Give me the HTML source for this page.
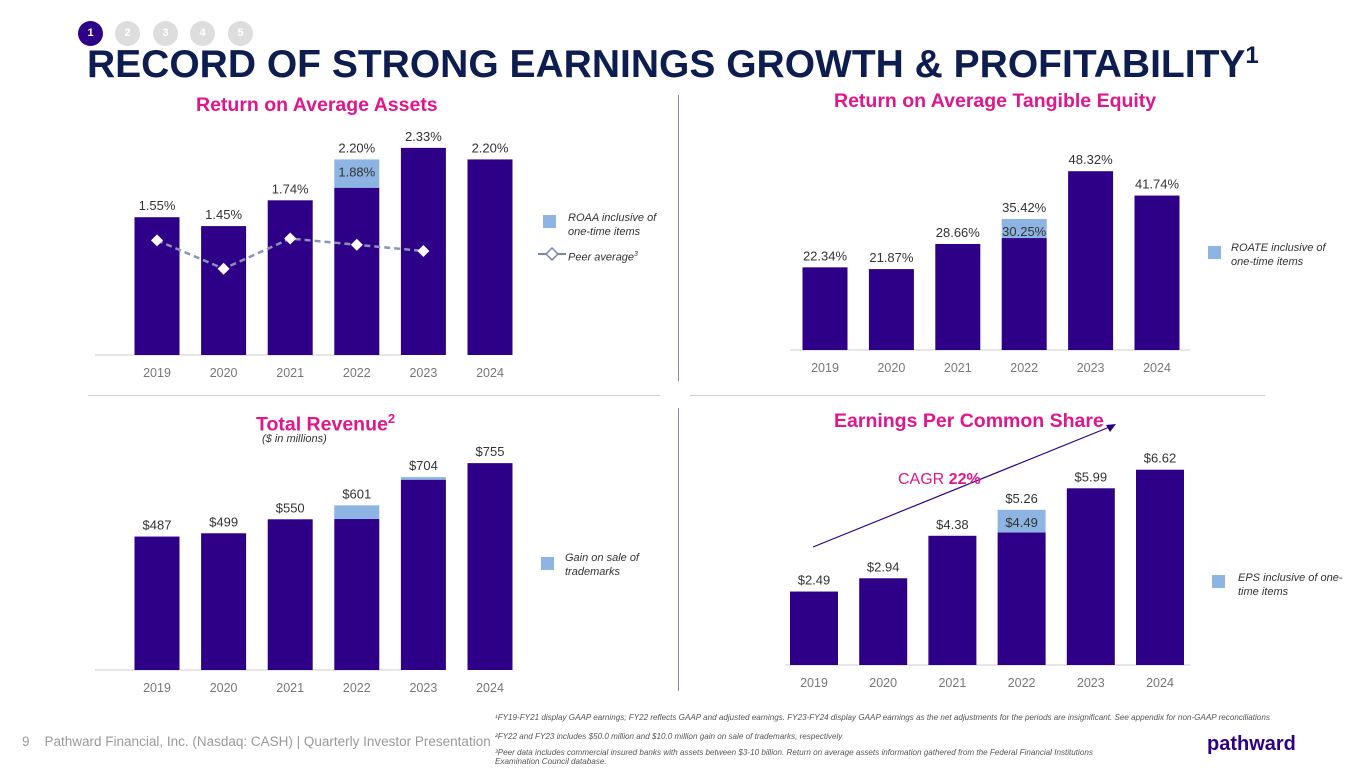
<!DOCTYPE html>
<html><head><meta charset="utf-8">
<style>
body{margin:0;width:1365px;height:768px;background:#fff;font-family:"Liberation Sans",sans-serif;overflow:hidden;position:relative}
.abs{position:absolute}
.dot{position:absolute;top:21px;width:25px;height:25px;border-radius:50%;background:#ddd;color:#fff;font-size:11px;font-weight:bold;text-align:center;line-height:25px}
.ct{position:absolute;color:#e0168c;font-weight:bold;font-size:19.5px;white-space:nowrap}
.leg{position:absolute;font-size:11px;font-style:italic;color:#333;line-height:14px}
.sw{position:absolute;width:13px;height:13px;background:#8db4e2}
.fn{position:absolute;font-size:8.1px;font-style:italic;color:#555;white-space:nowrap}
</style></head><body>
<div class="dot" style="left:78px;background:#2e0087">1</div>
<div class="dot" style="left:115px">2</div>
<div class="dot" style="left:153px">3</div>
<div class="dot" style="left:190px">4</div>
<div class="dot" style="left:228px">5</div>
<div class="abs" style="left:87px;top:42px;font-size:39px;font-weight:bold;color:#0d1d4f;white-space:nowrap">RECORD OF STRONG EARNINGS GROWTH &amp; PROFITABILITY<sup style="font-size:24px">1</sup></div>

<div class="ct" style="left:196px;top:94px">Return on Average Assets</div>
<div class="ct" style="left:834px;top:90px">Return on Average Tangible Equity</div>
<div class="ct" style="left:256px;top:411px">Total Revenue<sup style="font-size:13px">2</sup></div>
<div class="abs" style="left:262px;top:433px;font-size:11px;font-style:italic;color:#333">($ in millions)</div>
<div class="ct" style="left:834px;top:410px">Earnings Per Common Share</div>

<div class="abs" style="left:678px;top:95px;width:1px;height:286px;background:#8a82b8"></div>
<div class="abs" style="left:678px;top:408px;width:1px;height:283px;background:#8a82b8"></div>
<div class="abs" style="left:88px;top:395px;width:572px;height:1px;background:#ccc"></div>
<div class="abs" style="left:690px;top:395px;width:575px;height:1px;background:#ccc"></div>

<div class="sw" style="left:543px;top:215px"></div>
<div class="leg" style="left:568px;top:211px">ROAA inclusive of<br>one-time items</div>
<svg class="abs" style="left:538px;top:247px" width="28" height="14"><line x1="0" y1="7" x2="28" y2="7" stroke="#7a86a8" stroke-width="2"/><path d="M14 1 L20 7 L14 13 L8 7Z" fill="#fff" stroke="#7a86a8" stroke-width="1.5"/></svg>
<div class="leg" style="left:568px;top:248px">Peer average<sup style="font-size:7px">3</sup></div>
<div class="sw" style="left:1208px;top:246px"></div>
<div class="leg" style="left:1231px;top:241px">ROATE inclusive of<br>one-time items</div>
<div class="sw" style="left:541px;top:557px"></div>
<div class="leg" style="left:565px;top:551px">Gain on sale of<br>trademarks</div>
<div class="sw" style="left:1212px;top:575px"></div>
<div class="leg" style="left:1238px;top:571px">EPS inclusive of one-<br>time items</div>

<svg class="abs" style="left:0;top:0" width="1365" height="768" id="charts">
<line x1="813" y1="547" x2="1112" y2="426" stroke="#2e0087" stroke-width="1.2"/>
<path d="M1116 424 L1106 425 L1110 432Z" fill="#2e0087"/>
<text x="898" y="484" font-size="16" fill="#e0168c">CAGR <tspan font-weight="bold">22%</tspan></text>
</svg>

<div class="abs" style="left:22px;top:734px;font-size:13.5px;color:#999;white-space:nowrap">9&nbsp;&nbsp;&nbsp;&nbsp;Pathward Financial, Inc. (Nasdaq: CASH) | Quarterly Investor Presentation</div>
<div class="fn" style="left:495px;top:713px">¹FY19-FY21 display GAAP earnings; FY22 reflects GAAP and adjusted earnings. FY23-FY24 display GAAP earnings as the net adjustments for the periods are insignificant. See appendix for non-GAAP reconciliations</div>
<div class="fn" style="left:495px;top:732px">²FY22 and FY23 includes $50.0 million and $10.0 million gain on sale of trademarks, respectively</div>
<div class="fn" style="left:495px;top:748px">³Peer data includes commercial insured banks with assets between $3-10 billion. Return on average assets information gathered from the Federal Financial Institutions<br>Examination Council database.</div>
<div class="abs" style="left:1207px;top:733px;font-size:20px;font-weight:bold;color:#2e0087">pathward</div>

<script>
const years = ["2019","2020","2021","2022","2023","2024"];
const roaaBase = [1.55,1.45,1.74,1.88,2.33,2.20];
const roaaTotal = [1.55,1.45,1.74,2.20,2.33,2.20];
const roaaLabels = ["1.55%","1.45%","1.74%","2.20%","2.33%","2.20%"];
const roaaInnerLabels = ["","","","1.88%","",""];
const peerAvg = [1.29,0.97,1.31,1.24,1.17];
const roateBase = [22.34,21.87,28.66,30.25,48.32,41.74];
const roateTotal = [22.34,21.87,28.66,35.42,48.32,41.74];
const roateLabels = ["22.34%","21.87%","28.66%","35.42%","48.32%","41.74%"];
const roateInnerLabels = ["","","","30.25%","",""];
const revBase = [487,499,550,551,694,755];
const revTotal = [487,499,550,601,704,755];
const revLabels = ["$487","$499","$550","$601","$704","$755"];
const revInnerLabels = ["","","","","",""];
const epsBase = [2.49,2.94,4.38,4.49,5.99,6.62];
const epsTotal = [2.49,2.94,4.38,5.26,5.99,6.62];
const epsLabels = ["$2.49","$2.94","$4.38","$5.26","$5.99","$6.62"];
const epsInnerLabels = ["","","","$4.49","",""];

const svg = document.getElementById('charts');
const NS = 'http://www.w3.org/2000/svg';
function mk(tag, attrs, name){
  const e = document.createElementNS(NS, tag);
  for (const k in attrs) e.setAttribute(k, attrs[k]);
  
  
  svg.appendChild(e); return e;
}
function chart(id, cfg, base, total, labels, inner){
  const x = i => cfg.x0 + i * cfg.step;
  const y = v => cfg.base - v * cfg.scale;
  mk('line',{x1:cfg.ax0,x2:cfg.ax1,y1:cfg.base,y2:cfg.base,stroke:'#ddd','stroke-width':1.5}, id+'-baseline');
  years.forEach((yr,i)=>{
    const cx = x(i), w = cfg.w;
    if (total[i] > base[i]) {
      mk('rect',{x:cx-w/2,y:y(total[i]),width:w,height:y(base[i])-y(total[i]),fill:'#8db4e2'}, id+'-bar-adjusted-'+yr);
    }
    mk('rect',{x:cx-w/2,y:y(base[i]),width:w,height:cfg.base-y(base[i]),fill:'#2e0087'}, id+'-bar-'+yr);
    const t = mk('text',{x:cx,y:y(total[i])-7,'text-anchor':'middle','font-size':13,fill:'#333'}, id+'-value-'+yr);
    t.textContent = labels[i];
    if (inner[i]) {
      const t2 = mk('text',{x:cx,y:y(total[i])+17,'text-anchor':'middle','font-size':13,fill:'#333'}, id+'-inner-value-'+yr);
      t2.textContent = inner[i];
    }
    const a = mk('text',{x:cx,y:cfg.base+22,'text-anchor':'middle','font-size':12.5,fill:'#777'}, id+'-x-label-'+yr);
    a.textContent = yr;
  });
  return {x, y};
}
const c1 = chart('roaa',{x0:157,step:66.6,w:45,base:355,scale:88.9,ax0:95,ax1:402},roaaBase,roaaTotal,roaaLabels,roaaInnerLabels);
chart('roate',{x0:825,step:66.4,w:45,base:350,scale:3.7,ax0:790,ax1:1190},roateBase,roateTotal,roateLabels,roateInnerLabels);
chart('revenue',{x0:157,step:66.6,w:45,base:670,scale:0.274,ax0:95,ax1:402},revBase,revTotal,revLabels,revInnerLabels);
chart('eps',{x0:814,step:69.2,w:48,base:665,scale:29.5,ax0:785,ax1:1190},epsBase,epsTotal,epsLabels,epsInnerLabels);

const pts = peerAvg.map((v,i)=>c1.x(i)+','+c1.y(v)).join(' ');
mk('polyline',{points:pts,fill:'none',stroke:'#8a94b8','stroke-width':2.5,'stroke-dasharray':'6,4'}, 'peer-average-line');
peerAvg.forEach((v,i)=>{
  const cx=c1.x(i), cy=c1.y(v);
  mk('path',{d:`M${cx} ${cy-6} L${cx+6} ${cy} L${cx} ${cy+6} L${cx-6} ${cy}Z`,fill:'#fff'}, 'peer-average-point-'+years[i]);
});
</script>
</body></html>
